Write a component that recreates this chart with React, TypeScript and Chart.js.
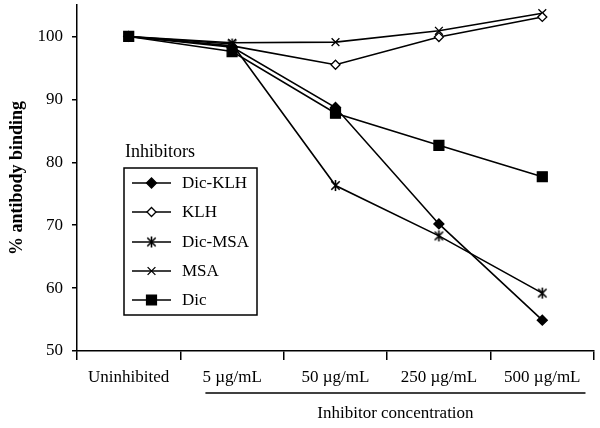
import React, { useEffect, useRef } from 'react';
import { Chart, registerables } from 'chart.js';
import { drawPoint } from 'chart.js/helpers';

Chart.register(...registerables);

const categories = ['Uninhibited', '5 \u00b5g/mL', '50 \u00b5g/mL', '250 \u00b5g/mL', '500 \u00b5g/mL'];
const seriesNames = ['Dic-KLH', 'KLH', 'Dic-MSA', 'MSA', 'Dic'];
const dicKLH = [100, 98.3, 88.7, 70.2, 54.9];
const klh = [100, 98.5, 95.5, 99.9, 103.1];
const dicMSA = [100, 98.8, 76.3, 68.3, 59.2];
const msa = [100, 99.0, 99.1, 100.9, 103.7];
const dic = [100, 97.6, 87.8, 82.7, 77.7];
const yMin = 50;
const yMax = 105;
const yStep = 10;
const yTitle = '% antibody binding';
const xTitle = 'Inhibitor concentration';
const legendTitle = 'Inhibitors';

const FONT = "'Liberation Serif', 'Times New Roman', serif";

function makeAsterisk(): HTMLCanvasElement {
  const c = document.createElement('canvas');
  c.width = 13;
  c.height = 13;
  const g = c.getContext('2d')!;
  g.strokeStyle = '#000';
  g.lineWidth = 1.6;
  g.beginPath();
  g.moveTo(6.5, 1); g.lineTo(6.5, 12);
  g.moveTo(2.3, 2.3); g.lineTo(10.7, 10.7);
  g.moveTo(10.7, 2.3); g.lineTo(2.3, 10.7);
  g.stroke();
  return c;
}

export default function App() {
  const ref = useRef<HTMLCanvasElement>(null);
  useEffect(() => {
    document.body.style.margin = '0';
    const asterisk = makeAsterisk();
    const styles: any[] = [
      { pointStyle: 'rectRot', radius: 5, bg: '#000' },
      { pointStyle: 'rectRot', radius: 4.5, bg: '#fff' },
      { pointStyle: asterisk, radius: 5, bg: '#000' },
      { pointStyle: 'crossRot', radius: 5.5, bg: '#000' },
      { pointStyle: 'rect', radius: 7, bg: '#000' },
    ];
    const values = [dicKLH, klh, dicMSA, msa, dic];
    const datasets = values.map((v, i) => ({
      label: seriesNames[i],
      data: v,
      borderColor: '#000',
      borderWidth: 1.6,
      backgroundColor: styles[i].bg,
      pointStyle: styles[i].pointStyle,
      pointRadius: styles[i].radius,
      pointBorderColor: '#000',
      pointBackgroundColor: styles[i].bg,
      pointBorderWidth: 1.3,
      fill: false,
      tension: 0,
      order: i === 4 ? 0 : 1,
    }));

    const zeroPad = (s: any) => {
      s.paddingTop = 0;
      s.paddingBottom = 0;
      s.paddingLeft = 0;
      s.paddingRight = 0;
    };

    const extras = {
      id: 'extras',
      afterDraw(chart: any) {
        const ctx = chart.ctx;
        const xs = chart.scales.x;
        ctx.save();
        ctx.font = `17px ${FONT}`;
        ctx.fillStyle = '#000';
        ctx.strokeStyle = '#000';
        // bracket line under concentration labels
        const w1 = ctx.measureText(categories[1]).width;
        const w4 = ctx.measureText(categories[4]).width;
        const lx1 = xs.getPixelForValue(1) - w1 / 2 + 3;
        const lx2 = xs.getPixelForValue(4) + w4 / 2 + 5;
        ctx.lineWidth = 1.5;
        ctx.beginPath();
        ctx.moveTo(lx1, 393);
        ctx.lineTo(lx2, 393);
        ctx.stroke();
        ctx.textAlign = 'center';
        ctx.textBaseline = 'middle';
        ctx.fillText(xTitle, (lx1 + lx2) / 2, 414);

        // legend
        ctx.textAlign = 'left';
        ctx.font = `18px ${FONT}`;
        ctx.fillText(legendTitle, 125, 152);
        ctx.font = `17px ${FONT}`;
        ctx.lineWidth = 1.5;
        ctx.strokeRect(124, 168, 133, 147);
        const rowY = [183, 212, 242, 271, 300];
        seriesNames.forEach((name, i) => {
          const y = rowY[i];
          ctx.lineWidth = 1.5;
          ctx.strokeStyle = '#000';
          ctx.beginPath();
          ctx.moveTo(132, y);
          ctx.lineTo(171, y);
          ctx.stroke();
          ctx.fillStyle = styles[i].bg;
          ctx.lineWidth = 1.3;
          drawPoint(ctx, { pointStyle: styles[i].pointStyle, radius: styles[i].radius, rotation: 0, borderWidth: 1.3 } as any, 151.5, y);
          ctx.fillStyle = '#000';
          ctx.fillText(name, 182, y + 1);
        });
        ctx.restore();
      },
    };

    const chart = new Chart(ref.current!, {
      type: 'line',
      data: { labels: categories, datasets },
      plugins: [extras],
      options: {
        animation: false,
        responsive: false,
        maintainAspectRatio: false,
        layout: { autoPadding: false, padding: { left: 0, right: 6, top: 5, bottom: 0 } },
        plugins: { legend: { display: false }, tooltip: { enabled: false } },
        scales: {
          x: {
            type: 'category',
            offset: true,
            afterFit: (s: any) => { s.height = 77; zeroPad(s); },
            border: { color: '#000', width: 1.5 },
            grid: { offset: true, drawOnChartArea: false, drawTicks: true, tickLength: 9, color: '#000', lineWidth: 1.5 },
            ticks: { color: '#000', font: { family: FONT, size: 17 }, padding: 7, maxRotation: 0, autoSkip: false },
          },
          y: {
            min: yMin,
            max: yMax,
            afterFit: (s: any) => { s.width = 77; zeroPad(s); },
            border: { color: '#000', width: 1.5 },
            grid: { drawOnChartArea: false, drawTicks: true, tickLength: 5, color: '#000', lineWidth: 1.5 },
            ticks: { stepSize: yStep, includeBounds: false, color: '#000', font: { family: FONT, size: 17 }, padding: 9 },
            title: { display: true, text: yTitle, color: '#000', font: { family: FONT, size: 18, weight: 'bold' }, padding: { top: 7, bottom: 0 } },
          },
        },
      },
    });
    return () => chart.destroy();
  }, []);
  return (
    <div style={{ position: 'absolute', left: 0, top: 0, width: 600, height: 428 }}>
      <canvas ref={ref} width={600} height={428} style={{ width: 600, height: 428 }} />
    </div>
  );
}
